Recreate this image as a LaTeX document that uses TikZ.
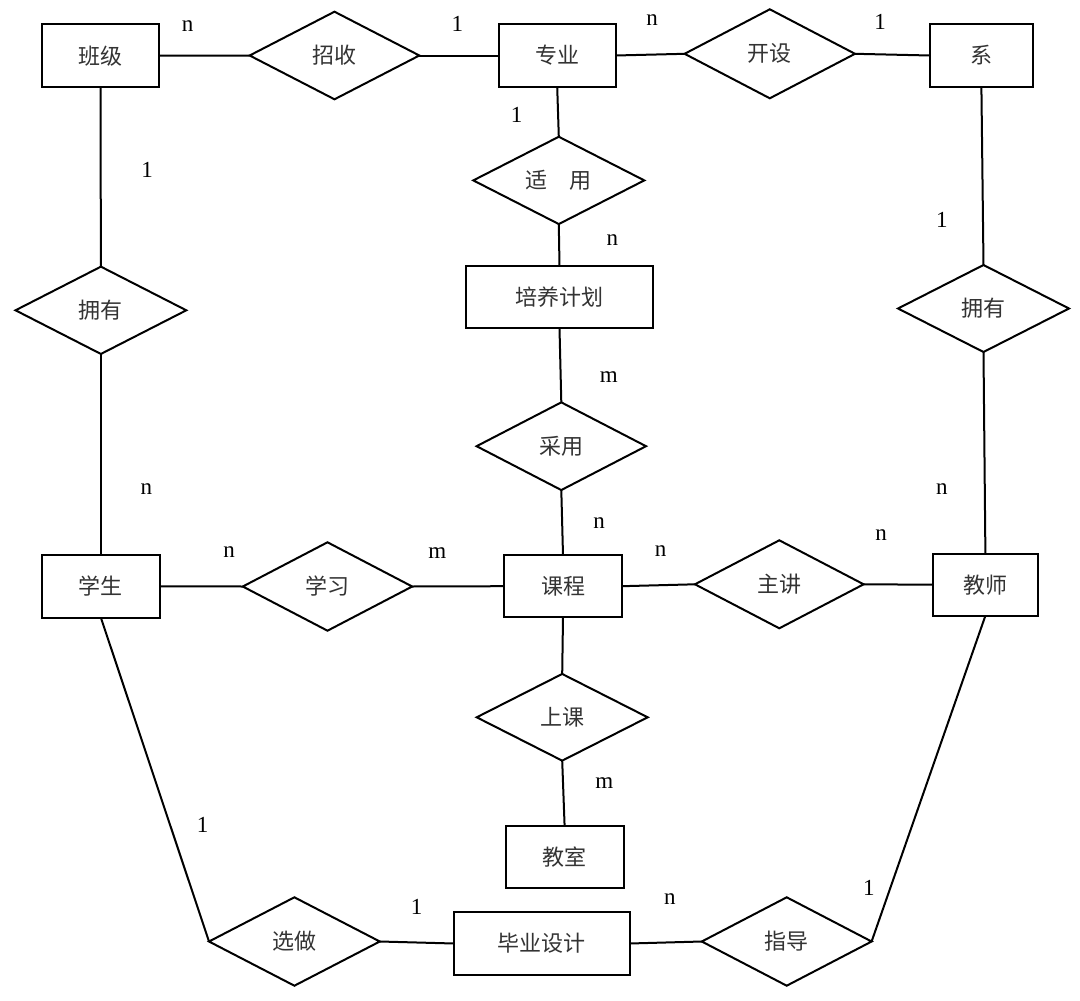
\documentclass[tikz,border=0pt]{standalone}
\usepackage{fontspec}
\setmainfont{Liberation Serif}
\newfontfamily\cjk{Noto Sans CJK SC}
\usetikzlibrary{shapes.geometric}
\begin{document}
\begin{tikzpicture}[x=1pt,y=-1pt,
  ent/.style={draw, rectangle, line width=2pt, inner sep=0pt, outer sep=0pt,
    font=\cjk\fontsize{22}{22}\selectfont, text=black!80},
  rel/.style={draw, diamond, line width=2pt, inner sep=0pt, outer sep=0pt,
    font=\cjk\fontsize{22}{22}\selectfont, text=black!80},
  conn/.style={line width=2pt},
  card/.style={inner sep=0pt, font=\fontsize{23}{23}\selectfont}
]
\fill[white] (0,0) rectangle (1080,1001);
\useasboundingbox (0,0) rectangle (1080,1001);

% entities
\node[ent, minimum width=117.7pt, minimum height=62.7pt] (banji) at (100.5,55.7) {班级};
\node[ent, minimum width=117.2pt, minimum height=62.4pt] (zhuanye) at (557.2,55.5) {专业};
\node[ent, minimum width=103.2pt, minimum height=62.4pt] (xi) at (981.4,55.5) {系};
\node[ent, minimum width=187.6pt, minimum height=62.3pt] (peiyang) at (559.5,297.2) {培养计划};
\node[ent, minimum width=118.4pt, minimum height=62.7pt] (xuesheng) at (100.9,586.3) {学生};
\node[ent, minimum width=117.4pt, minimum height=62.3pt] (kecheng) at (563,586.2) {课程};
\node[ent, minimum width=104.4pt, minimum height=62pt] (jiaoshi) at (985.4,584.7) {教师};
\node[ent, minimum width=118.2pt, minimum height=62.3pt] (jiaoshiroom) at (564.6,857.2) {教室};
\node[ent, minimum width=175.6pt, minimum height=62.4pt] (biye) at (541.7,943.5) {毕业设计};

% relationships
\node[rel, minimum width=169.7pt, minimum height=87.6pt] (zhaoshou) at (334.5,55.5) {招收};
\node[rel, minimum width=170.4pt, minimum height=89pt] (kaishe) at (769.8,53.8) {开设};
\node[rel, minimum width=171pt, minimum height=87.3pt] (shiyong) at (558.8,180.4) {适\hspace{1em}用};
\node[rel, minimum width=170.8pt, minimum height=87.3pt] (yongyouL) at (100.9,310.3) {拥有};
\node[rel, minimum width=171pt, minimum height=87pt] (yongyouR) at (983.5,308.5) {拥有};
\node[rel, minimum width=169.4pt, minimum height=87.7pt] (caiyong) at (561.3,446.2) {采用};
\node[rel, minimum width=169.4pt, minimum height=88.4pt] (xuexi) at (327.5,586.5) {学习};
\node[rel, minimum width=168.7pt, minimum height=88pt] (zhujiang) at (779.3,584.3) {主讲};
\node[rel, minimum width=171pt, minimum height=86.7pt] (shangke) at (562.2,717.3) {上课};
\node[rel, minimum width=170.8pt, minimum height=88.4pt] (xuanzuo) at (294.4,941.5) {选做};
\node[rel, minimum width=169.8pt, minimum height=88.4pt] (zhidao) at (786.7,941.5) {指导};

% connectors
\draw[conn] (banji.east) -- (zhaoshou.west);
\draw[conn] (zhaoshou.east) -- (zhuanye.west);
\draw[conn] (zhuanye.east) -- (kaishe.west);
\draw[conn] (kaishe.east) -- (xi.west);
\draw[conn] (zhuanye.south) -- (shiyong.north);
\draw[conn] (shiyong.south) -- (peiyang.north);
\draw[conn] (peiyang.south) -- (caiyong.north);
\draw[conn] (caiyong.south) -- (kecheng.north);
\draw[conn] (kecheng.south) -- (shangke.north);
\draw[conn] (shangke.south) -- (jiaoshiroom.north);
\draw[conn] (banji.south) -- (yongyouL.north);
\draw[conn] (yongyouL.south) -- (xuesheng.north);
\draw[conn] (xi.south) -- (yongyouR.north);
\draw[conn] (yongyouR.south) -- (jiaoshi.north);
\draw[conn] (xuesheng.east) -- (xuexi.west);
\draw[conn] (xuexi.east) -- (kecheng.west);
\draw[conn] (kecheng.east) -- (zhujiang.west);
\draw[conn] (zhujiang.east) -- (jiaoshi.west);
\draw[conn] (xuesheng.south) -- (xuanzuo.west);
\draw[conn] (xuanzuo.east) -- (biye.west);
\draw[conn] (biye.east) -- (zhidao.west);
\draw[conn] (jiaoshi.south) -- (zhidao.east);

% cardinalities
\node[card] (c1) at (187.7,26) {n};
\node[card] (c2) at (457.3,24) {1};
\node[card] (c3) at (652,20) {n};
\node[card] (c4) at (880,21.7) {1};
\node[card] (c5) at (516.5,115) {1};
\node[card] (c6) at (147,170) {1};
\node[card] (c7) at (612.3,240) {n};
\node[card] (c8) at (941.9,220) {1};
\node[card] (c9) at (608.9,376.7) {m};
\node[card] (c10) at (146.3,489.3) {n};
\node[card] (c11) at (941.9,489.3) {n};
\node[card] (c12) at (599.2,523.3) {n};
\node[card] (c13) at (229,551.7) {n};
\node[card] (c14) at (437.3,552.7) {m};
\node[card] (c15) at (660.5,550.7) {n};
\node[card] (c16) at (881,535) {n};
\node[card] (c17) at (604.4,783.3) {m};
\node[card] (c18) at (202.5,825) {1};
\node[card] (c19) at (868.9,888.3) {1};
\node[card] (c20) at (669.8,899) {n};
\node[card] (c21) at (416.7,906.7) {1};
\end{tikzpicture}
\end{document}
